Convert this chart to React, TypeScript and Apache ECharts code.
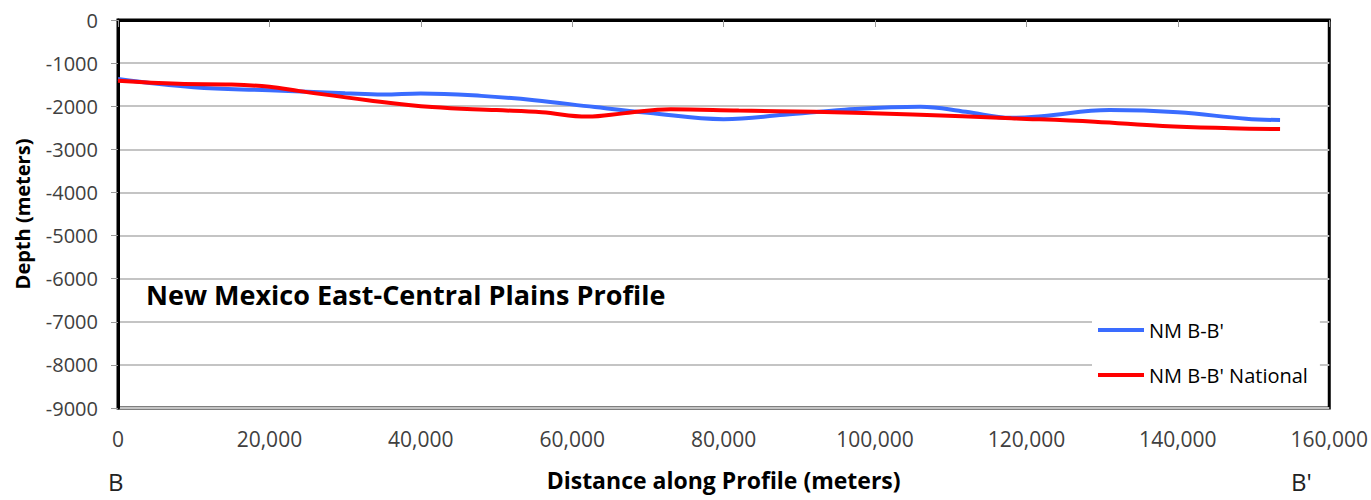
import React, { useEffect, useRef } from "react";
import * as echarts from "echarts";

const seriesNames = ["NM B-B'", "NM B-B' National"];

const blueData: [number, number][] = [
  [0, -1370], [10000, -1560], [20000, -1630], [30000, -1700], [35000, -1730],
  [40000, -1705], [48000, -1760], [55000, -1860], [63000, -2020], [70000, -2150],
  [80000, -2300], [88000, -2200], [96000, -2080], [106000, -2010], [112000, -2130],
  [118000, -2270], [122000, -2230], [131000, -2090], [140000, -2140], [149000, -2290],
  [153500, -2320],
];

const redData: [number, number][] = [
  [0, -1410], [8000, -1480], [15000, -1495], [20000, -1550], [24000, -1650],
  [33000, -1860], [41500, -2020], [50000, -2090], [56000, -2140], [62000, -2240],
  [67000, -2160], [73000, -2070], [82000, -2100], [92000, -2130], [105000, -2190],
  [118000, -2280], [129000, -2360], [138000, -2460], [147000, -2510], [153500, -2530],
];

const chartTitle = "New Mexico East-Central Plains Profile";
const xAxisTitle = "Distance along Profile (meters)";
const yAxisTitle = "Depth (meters)";
const startLabel = "B";
const endLabel = "B'";

const FONT = "'Open Sans', Lato, sans-serif";

export default function App() {
  const ref = useRef<HTMLDivElement>(null);
  useEffect(() => {
    if (!ref.current) return;
    const chart = echarts.init(ref.current, null, { renderer: "svg" });
    chart.setOption({
      animation: false,
      backgroundColor: "#ffffff",
      textStyle: { fontFamily: FONT },
      grid: {
        left: 118, right: 38, top: 20, bottom: 92,
        show: true, borderColor: "#000", borderWidth: 3, backgroundColor: "transparent",
        containLabel: false,
      },
      title: {
        text: chartTitle,
        left: 146, top: 281, padding: 0,
        textStyle: { fontFamily: FONT, fontSize: 27, fontWeight: "bold", color: "#000" },
      },
      legend: {
        orient: "vertical",
        left: 1092, top: 316,
        backgroundColor: "#fff",
        padding: [4, 12, 6, 6],
        itemGap: 25,
        itemWidth: 46, itemHeight: 4,
        icon: "rect",
        data: seriesNames,
        textStyle: { fontFamily: FONT, fontSize: 20, color: "#000", padding: [0, 0, 0, 0] },
      },
      xAxis: {
        type: "value",
        min: 0, max: 160000, interval: 20000,
        name: xAxisTitle,
        nameLocation: "middle",
        nameGap: 60,
        nameTextStyle: { fontFamily: FONT, fontSize: 23, fontWeight: "bold", color: "#000" },
        axisLine: { show: true, lineStyle: { color: "#000", width: 3 } },
        axisTick: { show: true, inside: false, length: 7, lineStyle: { color: "#999", width: 1 } },
        axisLabel: {
          margin: 20, fontSize: 21, color: "#404040", fontFamily: FONT,
          formatter: (v: number) => v.toLocaleString("en-US"),
        },
        splitLine: { show: false },
      },
      yAxis: {
        type: "value",
        min: -9000, max: 0, interval: 1000,
        name: yAxisTitle,
        nameLocation: "middle",
        nameRotate: 90,
        nameGap: 86,
        nameTextStyle: { fontFamily: FONT, fontSize: 20, fontWeight: "bold", color: "#000" },
        axisLine: { show: true, lineStyle: { color: "#000", width: 3 } },
        axisTick: { show: true, inside: false, length: 7, lineStyle: { color: "#999", width: 1 } },
        axisLabel: {
          margin: 20, fontSize: 20, color: "#404040", fontFamily: FONT,
          formatter: (v: number) => String(v),
        },
        splitLine: { show: true, lineStyle: { color: "#c4c4c4", width: 2 } },
      },
      graphic: [
        { type: "text", left: 108, top: 469, style: { text: startLabel, fontFamily: FONT, fontSize: 24, fill: "#222" } },
        { type: "text", left: 1291, top: 469, style: { text: endLabel, fontFamily: FONT, fontSize: 24, fill: "#222" } },
      ],
      series: [
        {
          name: seriesNames[0], type: "line", data: blueData, smooth: 0.4,
          showSymbol: false, symbol: "none",
          lineStyle: { color: "#3a6cff", width: 4 }, itemStyle: { color: "#3a6cff" },
          z: 3,
        },
        {
          name: seriesNames[1], type: "line", data: redData, smooth: 0.4,
          showSymbol: false, symbol: "none",
          lineStyle: { color: "#ff0000", width: 4 }, itemStyle: { color: "#ff0000" },
          z: 4,
        },
      ],
    });
    return () => chart.dispose();
  }, []);
  return <div ref={ref} style={{ position: "fixed", left: 0, top: 0, width: 1371, height: 500 }} />;
}
